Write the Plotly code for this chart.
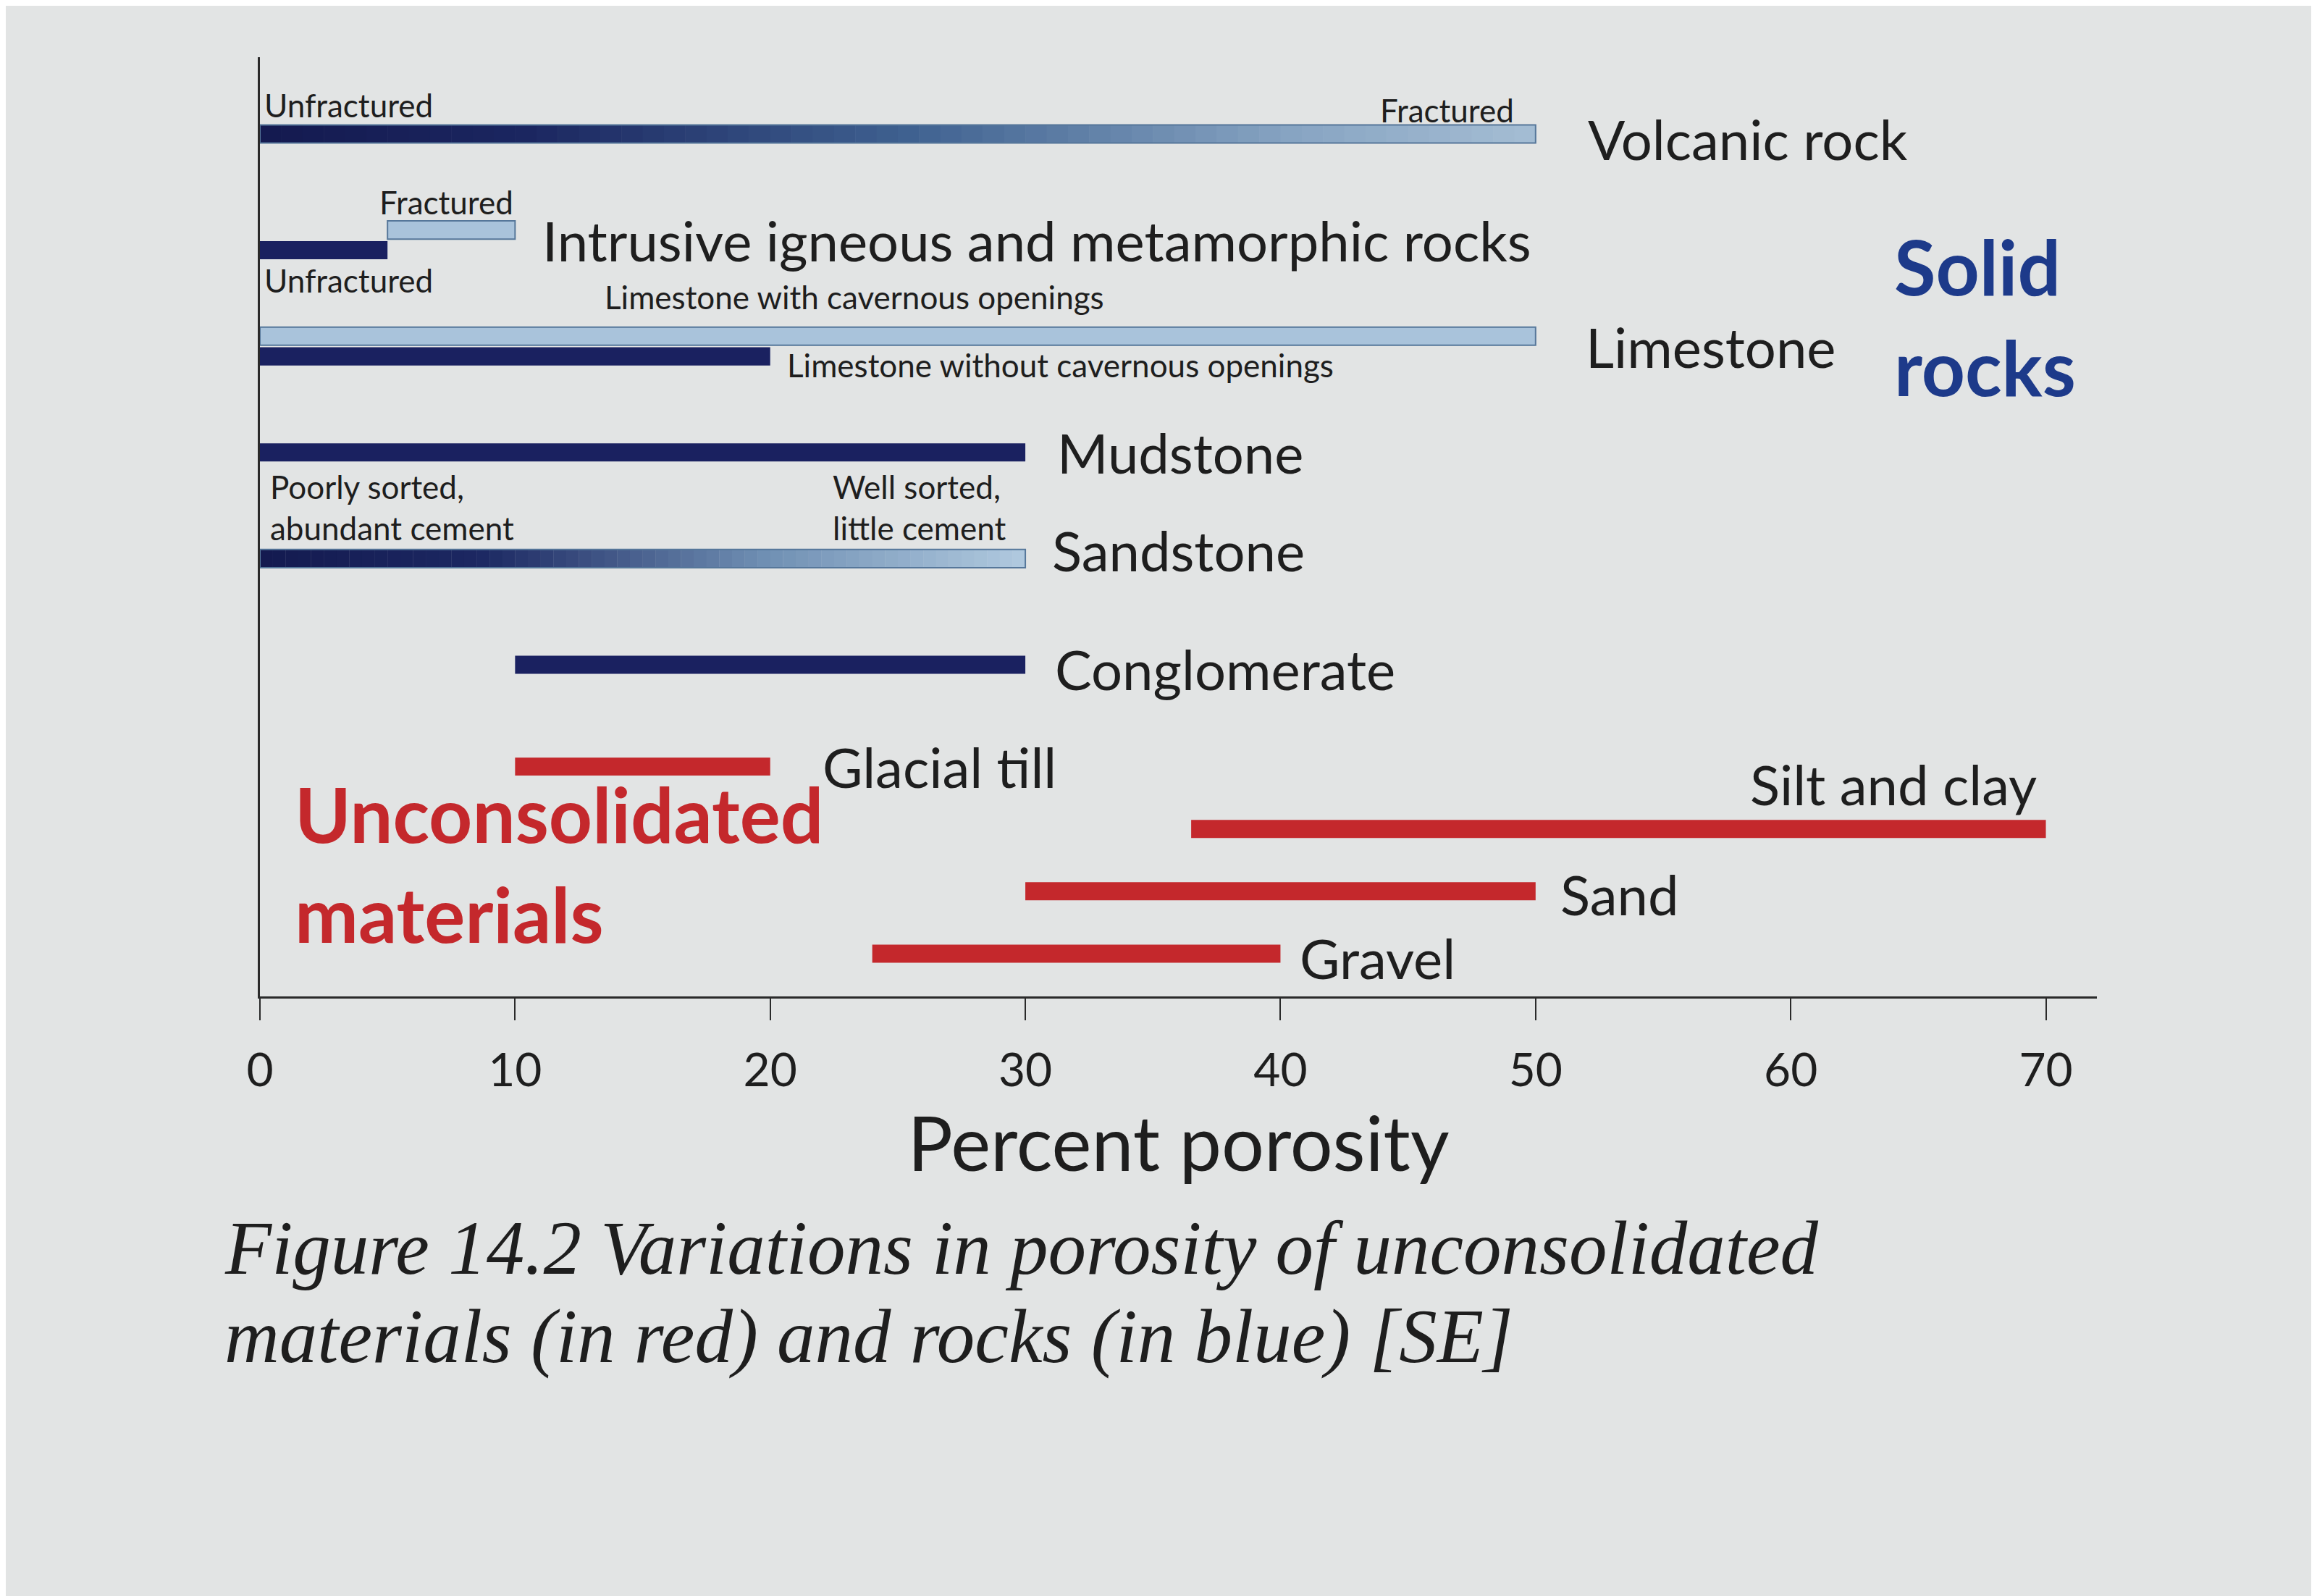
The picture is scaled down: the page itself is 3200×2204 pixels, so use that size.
import numpy as np
import plotly.graph_objects as go

# rows top to bottom, two groups as in the figure
SOLID_ROWS = ["Volcanic rock", "Intrusive igneous and metamorphic rocks", "Limestone",
              "Mudstone", "Sandstone", "Conglomerate"]
LOOSE_ROWS = ["Glacial till", "Silt and clay", "Sand", "Gravel"]

# porosity ranges in percent
# paired rows: upper bar = fractured / with cavernous openings, lower bar = unfractured / without
UPPER_NAMES = ["Intrusive igneous and metamorphic rocks", "Limestone"]
UPPER_LOW = [5, 0]
UPPER_HIGH = [10, 50]

LOWER_NAMES = ["Intrusive igneous and metamorphic rocks", "Limestone"]
LOWER_LOW = [0, 0]
LOWER_HIGH = [5, 20]

DARK_NAMES = ["Mudstone", "Conglomerate"]
DARK_LOW = [0, 10]
DARK_HIGH = [30, 30]

GRADED_NAMES = ["Volcanic rock", "Sandstone"]
GRADED_LOW = [0, 0]
GRADED_HIGH = [50, 30]

LOOSE_LOW = [10, 36.5, 30, 24]
LOOSE_HIGH = [20, 70, 50, 40]

X_TICKS = [0, 10, 20, 30, 40, 50, 60, 70]

NAVY = "#1a2160"
LIGHT = "#a9c3db"
EDGE = "#56779a"
RED = "#c4282c"
BLUE_TXT = "#1d3a8a"
INK = "#1e1e1e"
AXIS = "#2a2a2a"
BG = "#e2e4e4"
FONT = "Lato, Open Sans, sans-serif"

W_TOP = 0.171     # bar thickness in row units, solid-rock panel
W_BOT = 0.29      # bar thickness in row units, unconsolidated panel
PAIR = 0.095      # half distance between paired bars
SPLIT = 0.2953    # paper height of the unconsolidated panel

GRADED_SCALES = {
    "Volcanic rock": [[0, "#141a50"], [0.2, "#1b2660"], [0.5, "#3f6190"], [0.8, "#87a4c2"], [1, "#a6bed4"]],
    "Sandstone": [[0, "#141a50"], [0.28, "#1c2862"], [0.65, "#6f8fb3"], [1, "#b2cbe0"]],
}
SEGMENTS = 60

fig = go.Figure()


def hbar(names, low, high, color, axis="y", width=W_TOP, line_color=None, offset=None):
    fig.add_trace(go.Bar(
        y=names, x=[h - l for l, h in zip(low, high)], base=low, orientation="h",
        yaxis=axis, width=width, offset=offset,
        marker=dict(color=color, line=dict(color=line_color or color, width=2 if line_color else 0)),
        hoverinfo="skip", showlegend=False,
    ))


hbar(DARK_NAMES, DARK_LOW, DARK_HIGH, NAVY)
hbar(LOWER_NAMES, LOWER_LOW, LOWER_HIGH, NAVY, offset=PAIR - W_TOP / 2)
hbar(UPPER_NAMES, UPPER_LOW, UPPER_HIGH, LIGHT, line_color=EDGE, offset=-PAIR - W_TOP / 2)

# graded bars: shade each single range from dark (left) to light (right)
for name, lo, hi in zip(GRADED_NAMES, GRADED_LOW, GRADED_HIGH):
    edges = np.linspace(lo, hi, SEGMENTS + 1)
    frac = (edges[:-1] - lo) / (hi - lo)
    fig.add_trace(go.Bar(
        y=[name] * SEGMENTS, x=np.diff(edges) * 1.02, base=edges[:-1], orientation="h", width=W_TOP,
        marker=dict(color=frac, colorscale=GRADED_SCALES[name], cmin=0, cmax=1, line=dict(width=0)),
        hoverinfo="skip", showlegend=False,
    ))
hbar(GRADED_NAMES, GRADED_LOW, GRADED_HIGH, "rgba(0,0,0,0)", line_color=EDGE)

hbar(LOOSE_ROWS, LOOSE_LOW, LOOSE_HIGH, RED, axis="y2", width=W_BOT)

top = {n: i for i, n in enumerate(SOLID_ROWS)}
bot = {n: i for i, n in enumerate(LOOSE_ROWS)}


def label(text, x, y, size, axis="y", anchor="left", yanchor="middle", yshift=0, color=INK, bold=False):
    fig.add_annotation(
        x=x, y=y, xref="x", yref=axis, text=f"<b>{text}</b>" if bold else text,
        showarrow=False, xanchor=anchor, yanchor=yanchor, yshift=yshift, align="left",
        font=dict(family=FONT, size=size, color=color),
    )


BIG, SMALL, GROUP = 76, 44, 105
INTR = "Intrusive igneous and metamorphic rocks"

label("Volcanic rock", 52.0, top["Volcanic rock"], BIG, yshift=-7)
label("Unfractured", 0.1, top["Volcanic rock"], SMALL, yanchor="bottom", yshift=12)
label("Fractured", 49.2, top["Volcanic rock"], SMALL, anchor="right", yanchor="bottom", yshift=5)

label(INTR, 11.0, top[INTR], BIG, yshift=0)
label("Fractured", 10.0, top[INTR], SMALL, anchor="right", yanchor="bottom", yshift=25)
label("Unfractured", 0.1, top[INTR], SMALL, yanchor="top", yshift=-27)

label("Limestone with cavernous openings", 23.3, top["Limestone"], SMALL, anchor="center", yshift=68)
label("Limestone without cavernous openings", 20.6, top["Limestone"], SMALL, yshift=-26)
label("Limestone", 51.9, top["Limestone"], BIG)

label("Mudstone", 31.2, top["Mudstone"], BIG)
label("Sandstone", 31.0, top["Sandstone"], BIG, yshift=12)
label("Poorly sorted,<br>abundant cement", 0.35, top["Sandstone"], SMALL, yanchor="bottom", yshift=14)
label("Well sorted,<br>little cement", 22.4, top["Sandstone"], SMALL, yanchor="bottom", yshift=14)
label("Conglomerate", 31.1, top["Conglomerate"], BIG, yshift=-6)

label("Glacial till", 22.0, bot["Glacial till"], BIG, axis="y2")
label("Silt and clay", 69.7, bot["Silt and clay"], BIG, axis="y2", anchor="right", yshift=62)
label("Sand", 50.9, bot["Sand"], BIG, axis="y2", yshift=-4)
label("Gravel", 40.7, bot["Gravel"], BIG, axis="y2", yshift=-6)

label("Solid", 64.0, 1.245, GROUP, color=BLUE_TXT, bold=True)
label("rocks", 64.0, 2.19, GROUP, color=BLUE_TXT, bold=True)
label("Unconsolidated", 1.3, 0.75, GROUP, axis="y2", color=RED, bold=True)
label("materials", 1.3, 2.35, GROUP, axis="y2", color=RED, bold=True)

for text, y in [("Figure 14.2 Variations in porosity of unconsolidated", -0.268),
                ("materials (in red) and rocks (in blue) [SE]", -0.362)]:
    fig.add_annotation(
        x=-0.0201, y=y, xref="paper", yref="paper", text=f"<i>{text}</i>", showarrow=False,
        xanchor="left", yanchor="middle",
        font=dict(family="Liberation Serif, Times New Roman, serif", size=105, color=INK),
    )

fig.update_layout(
    width=3200, height=2204,
    margin=dict(l=351, r=312, t=71, b=836),
    paper_bgcolor=BG, plot_bgcolor=BG,
    barmode="overlay", showlegend=False,
    font=dict(family=FONT, color=INK),
    xaxis=dict(
        anchor="y2", range=[0, 72], tickvals=X_TICKS, ticks="outside", ticklen=30, tickwidth=2,
        tickcolor=AXIS, showline=True, linewidth=3, linecolor=AXIS, showgrid=False, zeroline=False,
        tickfont=dict(size=64, color=INK), ticklabelstandoff=14,
        title=dict(text="Percent porosity", font=dict(size=104, color=INK), standoff=26),
    ),
    yaxis=dict(
        domain=[SPLIT, 1], type="category", categoryorder="array", categoryarray=SOLID_ROWS,
        range=[5.512, -0.723], anchor="x",
    ),
    yaxis2=dict(
        domain=[0, SPLIT], type="category", categoryorder="array", categoryarray=LOOSE_ROWS,
        range=[3.686, -0.762], anchor="x",
    ),
)
fig.update_yaxes(showticklabels=False, ticks="", showline=True, linewidth=3, linecolor=AXIS,
                 showgrid=False, zeroline=False)

fig.write_html("out.html")
